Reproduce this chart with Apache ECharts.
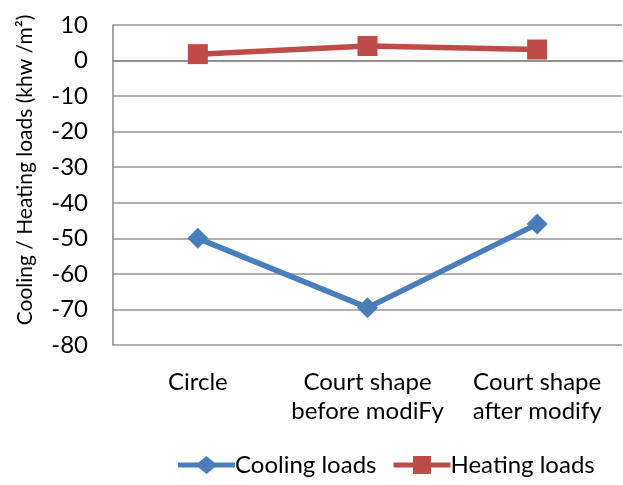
<!DOCTYPE html>
<html>
<head>
<meta charset="utf-8">
<script src="https://cdn.jsdelivr.net/npm/echarts@6/dist/echarts.min.js"></script>
<style>html,body{margin:0;padding:0;background:#fff}#c{width:623px;height:485px}</style>
</head>
<body>
<div id="c"></div>
<script>
const categories = ['Circle', 'Court shape\nbefore modiFy', 'Court shape\nafter modify'];
const coolingLoads = [-50, -69.5, -46];
const heatingLoads = [1.8, 4.1, 3.1];
const yTicks = { min: -80, max: 10, interval: 10 };
const yTitle = 'Cooling / Heating loads (khw /m²)';

const FONT = 'Lato';
const coolIcon = 'path://M0,6.5 L20.5,6.5 L28.5,0 L36.5,6.5 L57,6.5 L57,11.5 L36.5,11.5 L28.5,18 L20.5,11.5 L0,11.5 Z';
const heatIcon = 'path://M0,6.5 L19.5,6.5 L19.5,0 L37.5,0 L37.5,6.5 L57,6.5 L57,11.5 L37.5,11.5 L37.5,18 L19.5,18 L19.5,11.5 L0,11.5 Z';
const chart = echarts.init(document.getElementById('c'));
chart.setOption({
  animation: false,
  backgroundColor: '#fff',
  grid: { left: 113, right: 1, top: 25, bottom: 140, containLabel: false },
  xAxis: {
    type: 'category',
    data: categories,
    boundaryGap: true,
    axisLine: { lineStyle: { color: '#868686', width: 1.5 } },
    axisTick: { show: false },
    axisLabel: { color: '#000', fontFamily: FONT, fontSize: 24, margin: 23, lineHeight: 29, interval: 0, hideOverlap: false }
  },
  yAxis: {
    type: 'value',
    min: yTicks.min, max: yTicks.max, interval: yTicks.interval,
    name: yTitle,
    nameLocation: 'middle',
    nameGap: 77,
    nameTextStyle: { color: '#000', fontFamily: FONT, fontSize: 21, padding: [0, 0, 0, 30] },
    axisLine: { show: true, lineStyle: { color: '#868686', width: 1.5 } },
    axisTick: { show: false },
    splitLine: { lineStyle: { color: '#969696', width: 1.5 } },
    axisLabel: { color: '#000', fontFamily: FONT, fontSize: 24, margin: 25 }
  },
  legend: {
    bottom: 3,
    left: 173,
    itemWidth: 57,
    itemHeight: 18,
    itemGap: 17,
    textStyle: { color: '#000', fontFamily: FONT, fontSize: 24, padding: [0, 0, 0, -5] },
    data: [
      { name: 'Cooling loads', icon: coolIcon },
      { name: 'Heating loads', icon: heatIcon }
    ]
  },
  series: [
    {
      name: 'Cooling loads', type: 'line', data: coolingLoads,
      symbol: 'diamond', symbolSize: 21,
      lineStyle: { color: '#4A7EBB', width: 5.5 },
      itemStyle: { color: '#4A7EBB' }
    },
    {
      name: 'Heating loads', type: 'line', data: heatingLoads,
      symbol: 'rect', symbolSize: 20,
      lineStyle: { color: '#BE4B48', width: 5.5 },
      itemStyle: { color: '#BE4B48' }
    }
  ]
});
</script>
</body>
</html>
